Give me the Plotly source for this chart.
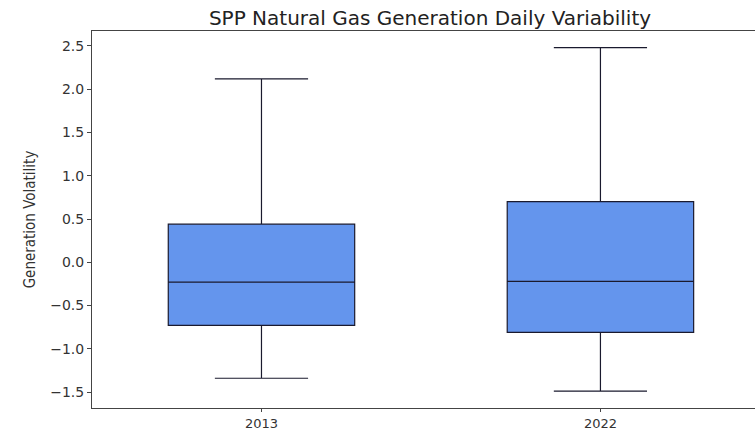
import plotly.graph_objects as go

years = ["2013", "2022"]
positions = [1, 2]
lower_whisker = [-1.34, -1.49]
q1 = [-0.73, -0.81]
median = [-0.23, -0.22]
q3 = [0.44, 0.70]
upper_whisker = [2.12, 2.48]

fig = go.Figure(
    go.Box(
        x=positions,
        q1=q1,
        median=median,
        q3=q3,
        lowerfence=lower_whisker,
        upperfence=upper_whisker,
        width=0.55,
        whiskerwidth=0.5,
        fillcolor="#6495ED",
        line=dict(color="#1a1a2e", width=1.2),
        boxpoints=False,
        showlegend=False,
    )
)

fig.update_layout(
    width=755,
    height=430,
    margin=dict(l=92, r=0, t=31, b=22),
    paper_bgcolor="white",
    plot_bgcolor="white",
    font=dict(family="DejaVu Sans", size=14, color="#333333"),
    title=dict(
        text="SPP Natural Gas Generation Daily Variability",
        x=430 / 755,
        xanchor="center",
        y=1 - 18 / 430,
        yanchor="middle",
        font=dict(size=20, color="#222222"),
    ),
)
fig.update_xaxes(
    range=[0.5, 2.456],
    tickvals=positions,
    ticktext=years,
    tickfont=dict(size=13),
    ticks="outside",
    ticklen=3,
    showline=True,
    linecolor="#444444",
    mirror=True,
    showgrid=False,
    zeroline=False,
    automargin=False,
)
fig.update_yaxes(
    range=[-1.684, 2.673],
    tickvals=[-1.5, -1.0, -0.5, 0.0, 0.5, 1.0, 1.5, 2.0, 2.5],
    ticktext=["\u22121.5", "\u22121.0", "\u22120.5", "0.0", "0.5", "1.0", "1.5", "2.0", "2.5"],
    ticks="outside",
    ticklen=4,
    showline=True,
    linecolor="#444444",
    mirror=False,
    showgrid=False,
    zeroline=False,
    automargin=False,
    title=dict(text="Generation Volatility", font=dict(family="Liberation Sans Narrow, DejaVu Sans Condensed", size=15), standoff=10),
)

# page has a default 8px body margin; drop it so the figure sits at the corner
fig.write_html(
    "out.html",
    config={"displayModeBar": False},
    post_script="document.body.style.margin='0px';",
)
